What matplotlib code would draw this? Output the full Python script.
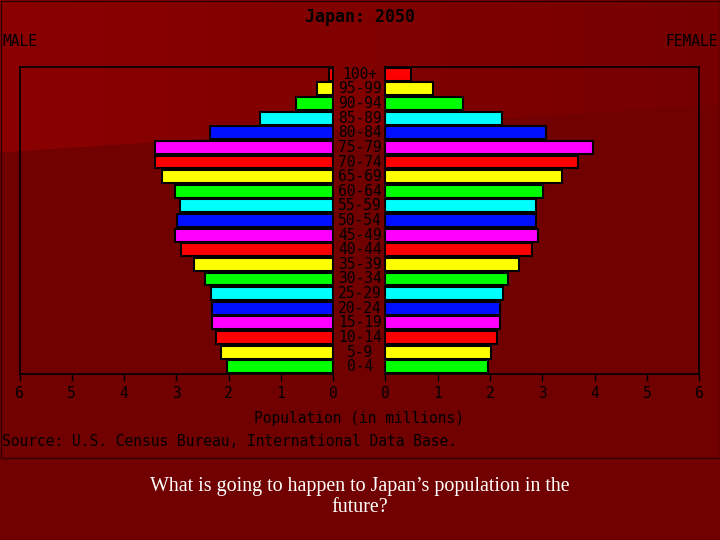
import matplotlib
matplotlib.use("Agg")
import matplotlib.pyplot as plt
import matplotlib.transforms as mtransforms
import numpy as np
from matplotlib.patches import Rectangle

age_groups = ["0-4", "5-9", "10-14", "15-19", "20-24", "25-29", "30-34",
              "35-39", "40-44", "45-49", "50-54", "55-59", "60-64", "65-69",
              "70-74", "75-79", "80-84", "85-89", "90-94", "95-99", "100+"]
# population in millions
male = [2.04, 2.15, 2.25, 2.31, 2.31, 2.34, 2.45, 2.67, 2.91, 3.03, 2.98,
        2.94, 3.03, 3.28, 3.41, 3.41, 2.35, 1.41, 0.72, 0.31, 0.09]
female = [1.96, 2.02, 2.14, 2.20, 2.20, 2.24, 2.34, 2.55, 2.80, 2.91, 2.88,
          2.88, 3.02, 3.38, 3.68, 3.96, 3.08, 2.23, 1.48, 0.91, 0.49]
xticks = [0, 1, 2, 3, 4, 5, 6]
palette = ["#00ff00", "#ffff00", "#ff0000", "#ff00ff", "#0010ff", "#00ffff"]
colors = [palette[i % len(palette)] for i in range(len(age_groups))]

mono = "DejaVu Sans Mono"
W, H = 720, 540

fig = plt.figure(figsize=(7.2, 5.4), dpi=100)

# background: dark red slide with a lighter wedge in the upper left
bg = fig.add_axes([0, 0, 1, 1])
yy, xx = np.mgrid[0:H, 0:W]
red = np.full((H, W), 0x71, dtype=float)
upper = yy < 152 - 0.067 * xx
red = np.where(upper, 0x8b - (0x8b - 0x76) * xx / W, red)
img = np.zeros((H, W, 3))
img[..., 0] = red / 255
bg.imshow(img, extent=(0, W, H, 0), aspect="auto")
bg.set_xlim(0, W)
bg.set_ylim(H, 0)
bg.axis("off")
bg.add_patch(Rectangle((0.5, 0.5), W - 1, 457, fill=False,
                       edgecolor="#300000", linewidth=1))


def px(x, y):
    return x / W, 1 - y / H


y = np.arange(len(age_groups))
bottom, top = px(0, 374)[1], px(0, 67)[1]
ax_m = fig.add_axes([px(19.5, 0)[0], bottom, px(333.3, 0)[0] - px(19.5, 0)[0], top - bottom])
ax_f = fig.add_axes([px(385.4, 0)[0], bottom, px(699.2, 0)[0] - px(385.4, 0)[0], top - bottom])

for ax, vals in ((ax_m, male), (ax_f, female)):
    ax.barh(y, vals, height=0.88, color=colors, edgecolor="black", linewidth=1.5)
    ax.set_facecolor("none")
    ax.set_ylim(-0.5, len(age_groups) - 0.5)
    ax.set_yticks([])
    ax.set_xticks(xticks)
    ax.set_xticklabels([str(t) for t in xticks], fontfamily=mono, fontsize=10.5)
    ax.tick_params(axis="x", direction="out", length=5, width=1, color="black",
                   labelcolor="black", pad=4)
    for sp in ax.spines.values():
        sp.set_color("black")
        sp.set_linewidth(1.2)

ax_m.set_xlim(6, 0)
ax_f.set_xlim(0, 6)

# age labels in the gap between the two halves
trans = mtransforms.blended_transform_factory(fig.transFigure, ax_m.transData)
for i, lab in enumerate(age_groups):
    ax_m.text(0.5, i, lab, transform=trans, ha="center", va="center",
              fontfamily=mono, fontsize=10.5, color="black", clip_on=False)

fig.text(*px(360, 17), "Japan: 2050", ha="center", va="center",
         fontfamily=mono, fontsize=12, fontweight="bold", color="black")
fig.text(*px(2, 42), "MALE", ha="left", va="center",
         fontfamily=mono, fontsize=10.5, color="black")
fig.text(*px(718, 42), "FEMALE", ha="right", va="center",
         fontfamily=mono, fontsize=10.5, color="black")
fig.text(*px(359, 418), "Population (in millions)", ha="center", va="center",
         fontfamily=mono, fontsize=10.5, color="black")
fig.text(*px(2, 442), "Source: U.S. Census Bureau, International Data Base.",
         ha="left", va="center", fontfamily=mono, fontsize=10.5, color="black")

fig.text(*px(360, 497), "What is going to happen to Japan\u2019s population in the\nfuture?",
         ha="center", va="center", fontfamily="Liberation Serif", fontsize=14.4,
         color="white", linespacing=1.15)

fig.savefig("out.png", dpi=100, facecolor=fig.get_facecolor())
